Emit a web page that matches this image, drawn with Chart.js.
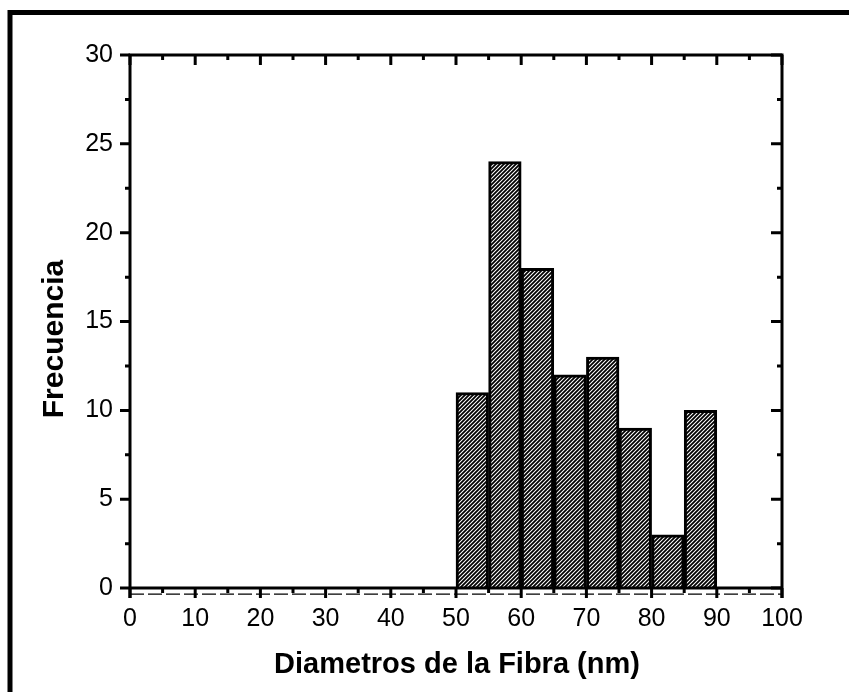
<!DOCTYPE html>
<html>
<head>
<meta charset="utf-8">
<script src="https://cdn.jsdelivr.net/npm/chart.js@4.4.0/dist/chart.umd.min.js"></script>
<style>
  html, body { margin: 0; padding: 0; background: #fff; }
  #wrap { width: 849px; height: 692px; }
</style>
</head>
<body>
<div id="wrap"><canvas id="hist" width="849" height="692"></canvas></div>
<script>
// Histogram data
const binCenters = [52.5, 57.5, 62.5, 67.5, 72.5, 77.5, 82.5, 87.5];
const counts = [11, 24, 18, 12, 13, 9, 3, 10];
const xTicks = [0, 10, 20, 30, 40, 50, 60, 70, 80, 90, 100];
const yTicks = [0, 5, 10, 15, 20, 25, 30];
const xTitle = 'Diametros de la Fibra (nm)';
const yTitle = 'Frecuencia';

const FONT = '"Liberation Sans", Arial, sans-serif';

// diagonal hatch fill for the bars
function makeHatch() {
    const s = 4;
    const c = document.createElement('canvas');
    c.width = s; c.height = s;
    const g = c.getContext('2d');
    g.fillStyle = '#fff';
    g.fillRect(0, 0, s, s);
    g.strokeStyle = '#000';
    g.lineWidth = 1.8;
    g.beginPath();
    g.moveTo(0, s); g.lineTo(s, 0);
    g.moveTo(-1, 1); g.lineTo(1, -1);
    g.moveTo(s - 1, s + 1); g.lineTo(s + 1, s - 1);
    g.stroke();
    return g.createPattern(c, 'repeat');
}

// frame, inward/outward ticks and titles, drawn from the scales
const framePlugin = {
    id: 'frame',
    afterDraw(chart) {
        const ctx = chart.ctx;
        const a = chart.chartArea;
        const xs = chart.scales.x, ys = chart.scales.y;
        const y0 = ys.getPixelForValue(0);
        ctx.save();
        ctx.strokeStyle = '#000';
        ctx.lineCap = 'butt';

        // outer page frame (left and top)
        ctx.lineWidth = 5;
        ctx.beginPath();
        ctx.moveTo(10, chart.height);
        ctx.lineTo(10, 12.5);
        ctx.lineTo(chart.width, 12.5);
        ctx.stroke();

        // axes box
        ctx.lineWidth = 3;
        ctx.beginPath();
        ctx.moveTo(a.left, a.bottom + 1);
        ctx.lineTo(a.left, a.top);
        ctx.lineTo(a.right, a.top);
        ctx.lineTo(a.right, a.bottom + 1);
        ctx.moveTo(a.left, y0);
        ctx.lineTo(a.right, y0);
        ctx.stroke();

        // faint dashed line under the baseline
        ctx.lineWidth = 1.3;
        ctx.setLineDash([14, 4]);
        ctx.beginPath();
        ctx.moveTo(a.left, y0 + 6);
        ctx.lineTo(a.right, y0 + 6);
        ctx.stroke();
        ctx.setLineDash([]);

        // x ticks
        ctx.lineWidth = 3;
        ctx.beginPath();
        for (let i = 0; i < xTicks.length; i++) {
            const px = xs.getPixelForValue(xTicks[i]);
            ctx.moveTo(px, y0); ctx.lineTo(px, y0 + 10);
            ctx.moveTo(px, a.top); ctx.lineTo(px, a.top + 10);
            if (i < xTicks.length - 1) {
                const mx = xs.getPixelForValue((xTicks[i] + xTicks[i + 1]) / 2);
                ctx.moveTo(mx, y0); ctx.lineTo(mx, y0 + 5);
                ctx.moveTo(mx, a.top); ctx.lineTo(mx, a.top + 5);
            }
        }
        // y ticks
        for (let i = 0; i < yTicks.length; i++) {
            const py = ys.getPixelForValue(yTicks[i]);
            ctx.moveTo(a.left, py); ctx.lineTo(a.left - 10, py);
            ctx.moveTo(a.right, py); ctx.lineTo(a.right - 11, py);
            if (i < yTicks.length - 1) {
                const my = ys.getPixelForValue((yTicks[i] + yTicks[i + 1]) / 2);
                ctx.moveTo(a.left, my); ctx.lineTo(a.left - 5, my);
                ctx.moveTo(a.right, my); ctx.lineTo(a.right - 5, my);
            }
        }
        ctx.stroke();

        // axis titles
        ctx.fillStyle = '#000';
        ctx.font = 'bold 29px ' + FONT;
        ctx.textAlign = 'center';
        ctx.textBaseline = 'alphabetic';
        ctx.fillText(xTitle, (a.left + a.right) / 2 + 1, 673);

        ctx.font = 'bold 30px ' + FONT;
        ctx.translate(63, 339);
        ctx.rotate(-Math.PI / 2);
        ctx.fillText(yTitle, 0, 0);
        ctx.restore();
    }
};

const ctx = document.getElementById('hist').getContext('2d');
new Chart(ctx, {
    type: 'bar',
    data: {
        datasets: [{
            data: binCenters.map((c, i) => ({ x: c, y: counts[i] })),
            backgroundColor: makeHatch(),
            borderColor: '#000',
            borderWidth: 3,
            barPercentage: 1,
            categoryPercentage: 1
        }]
    },
    options: {
        responsive: false,
        animation: false,
        layout: { padding: { left: 0, top: 55, right: 67, bottom: 0 } },
        plugins: { legend: { display: false }, tooltip: { enabled: false } },
        scales: {
            x: {
                type: 'linear',
                min: 0,
                max: 100,
                offset: false,
                grid: { display: false, drawTicks: false },
                border: { display: false },
                afterBuildTicks: s => { s.ticks = xTicks.map(v => ({ value: v })); },
                afterFit: s => { s.height = 95; },
                ticks: {
                    padding: 7,
                    color: '#000',
                    font: { family: FONT, size: 25 },
                    maxRotation: 0,
                    autoSkip: false
                }
            },
            y: {
                min: -0.5,
                max: 30,
                grid: { display: false, drawTicks: false },
                border: { display: false },
                afterBuildTicks: s => { s.ticks = yTicks.map(v => ({ value: v })); },
                afterFit: s => { s.width = 130; },
                ticks: {
                    padding: 17,
                    color: '#000',
                    font: { family: FONT, size: 25 }
                }
            }
        }
    },
    plugins: [framePlugin]
});
</script>
</body>
</html>
